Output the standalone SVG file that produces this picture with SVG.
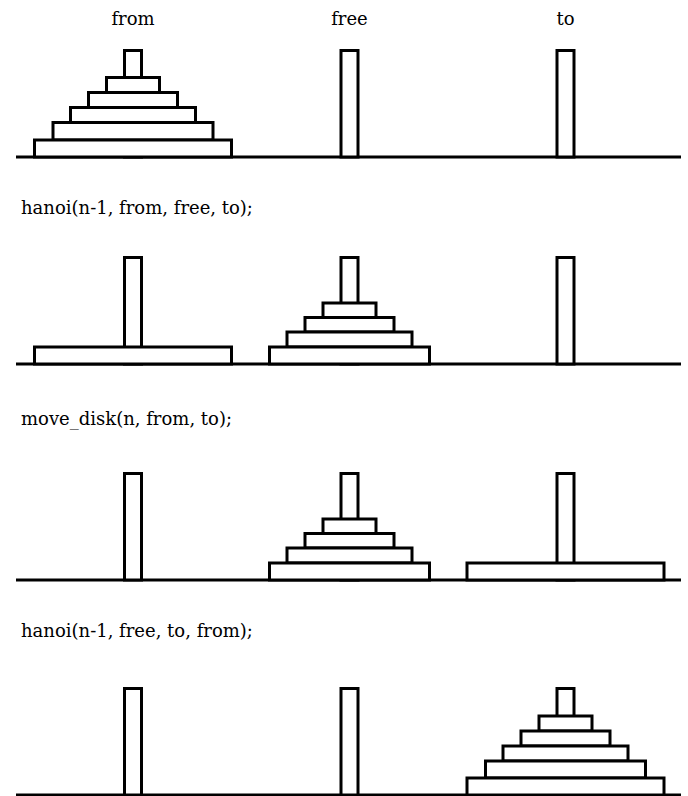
<svg xmlns="http://www.w3.org/2000/svg" width="688" height="796" viewBox="0 0 688 796">
<style>
.g{stroke:#000;stroke-width:3;fill:none}
.p{stroke:#000;stroke-width:3;fill:#fff}
.t{font-family:"DejaVu Serif","Liberation Serif",serif;font-size:18px;fill:#000}
.c{text-anchor:middle}
</style>
<rect width="688" height="796" fill="#fff"/>
<g id="titles">
<text class="t c" x="133" y="25">from</text>
<text class="t c" x="349.5" y="25">free</text>
<text class="t c" x="565.5" y="25">to</text>
</g>
<g id="panel1">
<line class="g" x1="16" y1="157" x2="681" y2="157"/>
<rect class="p" x="124.5" y="50.5" width="17" height="106.5"/>
<rect class="p" x="341" y="50.5" width="17" height="106.5"/>
<rect class="p" x="557" y="50.5" width="17" height="106.5"/>
<rect class="p" x="106.5" y="77.5" width="53" height="15"/>
<rect class="p" x="88.5" y="92.5" width="89" height="15"/>
<rect class="p" x="70.5" y="107.5" width="125" height="15"/>
<rect class="p" x="53" y="122.5" width="160" height="17.5"/>
<rect class="p" x="34.5" y="140" width="197" height="17"/>
</g>
<g id="label2"><text class="t" x="21" y="214">hanoi(n-1, from, free, to);</text></g>
<g id="panel2">
<line class="g" x1="16" y1="364" x2="681" y2="364"/>
<rect class="p" x="124.5" y="257.5" width="17" height="106.5"/>
<rect class="p" x="341" y="257.5" width="17" height="106.5"/>
<rect class="p" x="557" y="257.5" width="17" height="106.5"/>
<rect class="p" x="34.5" y="347" width="197" height="17"/>
<rect class="p" x="323" y="303" width="53" height="14.5"/>
<rect class="p" x="305" y="317.5" width="89" height="14.5"/>
<rect class="p" x="287" y="332" width="125" height="15"/>
<rect class="p" x="269.5" y="347" width="160" height="17"/>
</g>
<g id="label3"><text class="t" x="21" y="425">move_disk(n, from, to);</text></g>
<g id="panel3">
<line class="g" x1="16" y1="580" x2="681" y2="580"/>
<rect class="p" x="124.5" y="473.5" width="17" height="106.5"/>
<rect class="p" x="341" y="473.5" width="17" height="106.5"/>
<rect class="p" x="557" y="473.5" width="17" height="106.5"/>
<rect class="p" x="323" y="519" width="53" height="14.5"/>
<rect class="p" x="305" y="533.5" width="89" height="14.5"/>
<rect class="p" x="287" y="548" width="125" height="15"/>
<rect class="p" x="269.5" y="563" width="160" height="17"/>
<rect class="p" x="467" y="563" width="197" height="17"/>
</g>
<g id="label4"><text class="t" x="21" y="637">hanoi(n-1, free, to, from);</text></g>
<g id="panel4">
<line class="g" x1="16" y1="795" x2="681" y2="795"/>
<rect class="p" x="124.5" y="688.5" width="17" height="106.5"/>
<rect class="p" x="341" y="688.5" width="17" height="106.5"/>
<rect class="p" x="557" y="688.5" width="17" height="106.5"/>
<rect class="p" x="539" y="716" width="53" height="15"/>
<rect class="p" x="521" y="731" width="89" height="15"/>
<rect class="p" x="503" y="746" width="125" height="15"/>
<rect class="p" x="485.5" y="761" width="160" height="17"/>
<rect class="p" x="467" y="778" width="197" height="17"/>
</g>
</svg>
